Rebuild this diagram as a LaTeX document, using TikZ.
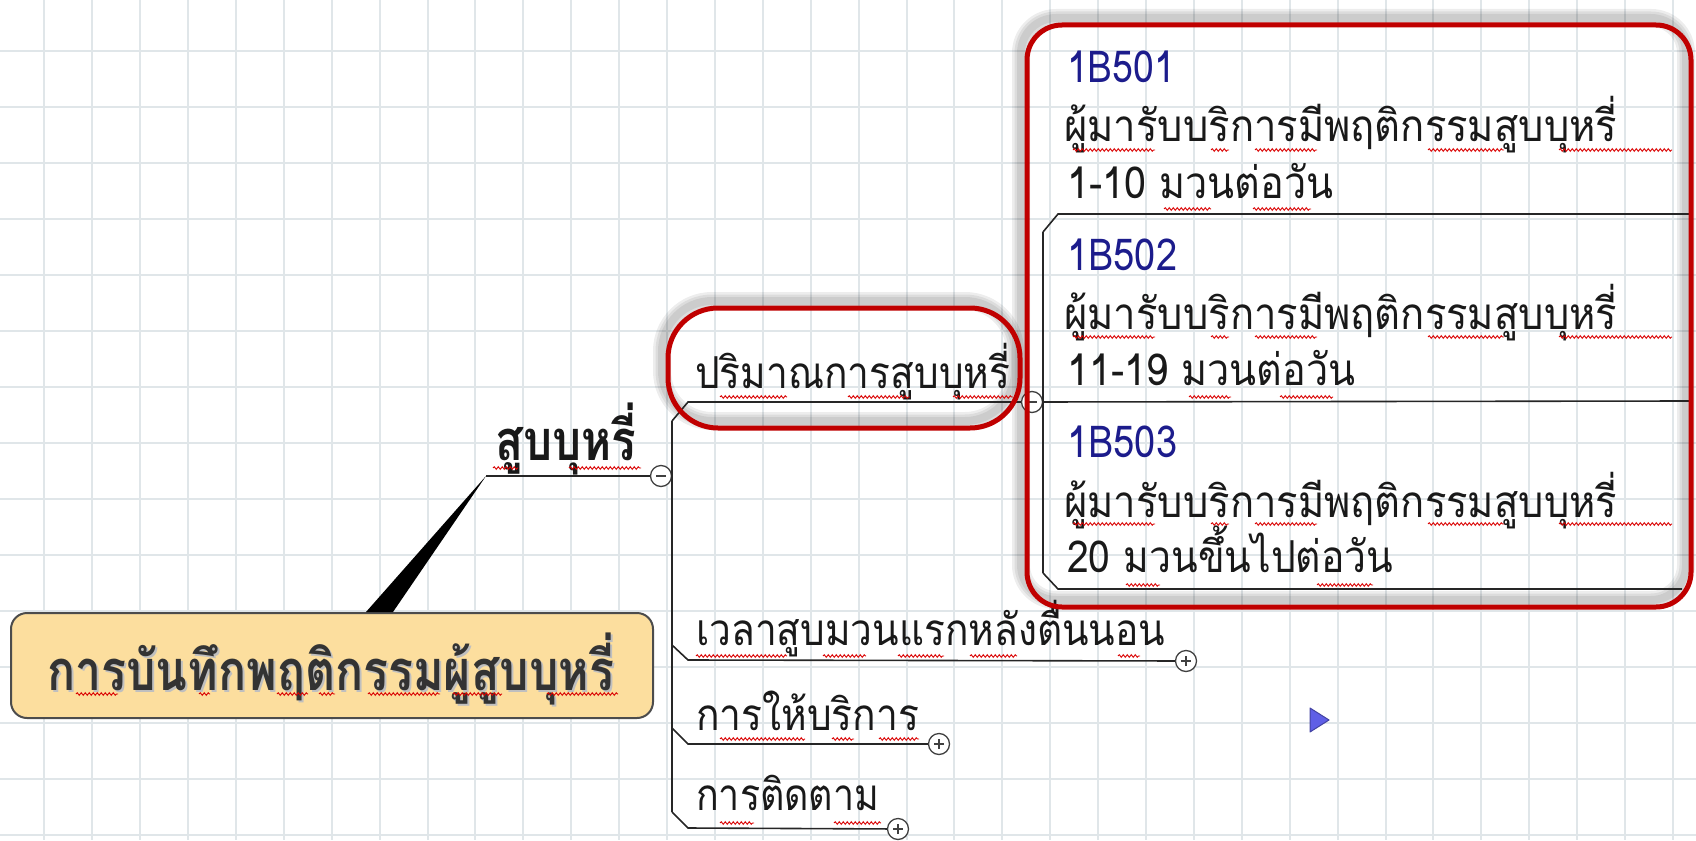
\documentclass[tikz,border=0pt]{standalone}
\usepackage{fontspec}
\newfontfamily\thai[Script=Thai]{Loma}
\usetikzlibrary{decorations.pathmorphing}
\newcommand\fitw[2]{\resizebox{#1}{\height}{#2}}
\definecolor{gridc}{RGB}{224,230,233}
\definecolor{redc}{RGB}{192,0,0}
\definecolor{navy}{RGB}{28,28,140}
\definecolor{peach}{RGB}{252,222,158}
\definecolor{ink}{RGB}{25,25,25}
\definecolor{playc}{RGB}{95,95,230}
\begin{document}
\begin{tikzpicture}[x=1pt,y=-1pt,
  txt/.style={inner sep=0, anchor=base west, text=ink, font=\thai\fontsize{44}{50}\selectfont},
  code/.style={txt, text=navy},
  bigtxt/.style={inner sep=0, anchor=base west, text=ink, font=\thai\bfseries\fontsize{56}{62}\selectfont},
  branch/.style={draw=black!85, line width=1.6},
  toggle/.style={circle, draw=black!75, fill=white, line width=1.3, minimum size=21, inner sep=0},
  squig/.style={draw=red!85!black, line width=0.9, decorate, decoration={snake, amplitude=1.3, segment length=4}},
  redframe/.style={draw=redc, line width=5},
  glow/.style={draw=black, line width=#1, opacity=0.07},
  rootbox/.style={draw=black!70, line width=2, fill=peach, rounded corners=16, minimum width=642, minimum height=105, inner sep=0},
]
\useasboundingbox (0,0) rectangle (1696,840);
% grid
\foreach \i in {0,...,34} \draw[gridc, line width=2] ({44.3+47.9*\i},0) -- ++(0,840);
\foreach \j in {0,...,14} \draw[gridc, line width=2] (0,{50.7+56*\j}) -- ++(1696,0);

% shadows of red frames (offset up-left)
\foreach \w in {18,13,8} {
  \draw[glow=\w, rounded corners=35] (1021,18) rectangle (1686,600);
  \draw[glow=\w, rounded corners=50] (662,301) rectangle (1015,421);
}

% root
\node[rootbox] (root) at (332,665.5) {};
\node[bigtxt, text=black!25] at (49,692) {\fitw{567pt}{การบันทึกพฤติกรรมผู้สูบบุหรี่}};
\node[bigtxt, text=black!80] (rootlabel) at (47,690) {\fitw{567pt}{การบันทึกพฤติกรรมผู้สูบบุหรี่}};

% main topic
\node[bigtxt] (main) at (495,460) {\fitw{141pt}{สูบบุหรี่}};
\coordinate (mainL) at (486,476);
\node[toggle] (t0) at (661,476) {};
\fill[black] ([xshift=34]root.north) -- ([xshift=61]root.north) -- (mainL) -- cycle;
\draw[branch] (mainL) -- (t0);
\draw[black!75, line width=2] ([xshift=-5]t0.center) -- ([xshift=5]t0.center);

% spine of main topic
\coordinate (sp1) at (672,421);
\coordinate (sp2) at (672,645);
\coordinate (sp3) at (672,728);
\coordinate (sp4) at (672,812);
\draw[branch] (sp1) -- (sp4);

% branch 1
\node[txt] (b1) at (695,388) {\fitw{315pt}{ปริมาณการสูบบุหรี่}};
\node[toggle] (t1) at (1032,402) {};
\draw[branch] (sp1) -- (688,402) -- (t1);
\draw[black!75, line width=2] ([xshift=-5]t1.center) -- ([xshift=5]t1.center);

% branch 2
\node[txt] (b2) at (696,645) {\fitw{469pt}{เวลาสูบมวนแรกหลังตื่นนอน}};
\node[toggle] (t2) at (1186,661) {};
\draw[branch] (sp2) -- (688,660) -- (t2);
\draw[black!75, line width=1.6] ([xshift=-5]t2.center) -- ([xshift=5]t2.center) ([yshift=-5]t2.center) -- ([yshift=5]t2.center);

% branch 3
\node[txt] (b3) at (696,730) {\fitw{223pt}{การให้บริการ}};
\node[toggle] (t3) at (939,744) {};
\draw[branch] (sp3) -- (688,744) -- (t3);
\draw[black!75, line width=1.6] ([xshift=-5]t3.center) -- ([xshift=5]t3.center) ([yshift=-5]t3.center) -- ([yshift=5]t3.center);

% branch 4
\node[txt] (b4) at (696,810) {\fitw{183pt}{การติดตาม}};
\node[toggle] (t4) at (898,829) {};
\draw[branch] (sp4) -- (688,828) -- (t4);
\draw[black!75, line width=1.6] ([xshift=-5]t4.center) -- ([xshift=5]t4.center) ([yshift=-5]t4.center) -- ([yshift=5]t4.center);

% sub topics
\coordinate (ss1) at (1043,232);
\coordinate (ss3) at (1043,573);
\coordinate (e1) at (1690,214);
\coordinate (e2) at (1690,401);
\coordinate (e3) at (1682,589);
\draw[branch] (ss1) -- (ss3);
\draw[branch] (ss1) -- (1058,214) -- (e1);
\draw[branch] (t1) -- (e2);
\draw[branch] (ss3) -- (1058,589) -- (e3);

\node[code] (c1) at (1067,83) {\fitw{108pt}{1B501}};
\node[txt] (d1) at (1064,142) {\fitw{553pt}{ผู้มารับบริการมีพฤติกรรมสูบบุหรี่}};
\node[txt] (n1) at (1067,198) {\fitw{266pt}{1-10 มวนต่อวัน}};
\node[code] (c2) at (1067,270) {\fitw{110pt}{1B502}};
\node[txt] (d2) at (1064,329) {\fitw{553pt}{ผู้มารับบริการมีพฤติกรรมสูบบุหรี่}};
\node[txt] (n2) at (1067,385) {\fitw{288pt}{11-19 มวนต่อวัน}};
\node[code] (c3) at (1067,457) {\fitw{110pt}{1B503}};
\node[txt] (d3) at (1064,517) {\fitw{553pt}{ผู้มารับบริการมีพฤติกรรมสูบบุหรี่}};
\node[txt] (n3) at (1067,572) {\fitw{326pt}{20 มวนขึ้นไปต่อวัน}};

% red frames
\draw[redframe, rounded corners=35] (1027,25) rectangle (1691,607);
\draw[redframe, rounded corners=50] (668,308) rectangle (1020,428);

% play marker
\filldraw[fill=playc, draw=playc!70!black, line width=1, line join=round] (1310,708) -- (1329,720) -- (1310,732) -- cycle;

% spell-check squiggles
\foreach \a/\b/\y in {76/118/694, 199/210/694, 277/308/694, 319/335/694, 368/440/694, 453/502/694, 547/618/694,
  493/518/468, 569/641/468,
  720/787/397, 848/910/397, 953/1013/397,
  696/787/656, 823/866/656, 898/944/656, 970/1017/656, 1118/1140/656,
  720/805/739, 832/854/739, 879/919/739,
  720/754/823, 834/881/823,
  1073/1155/150, 1211/1229/150, 1255/1317/150, 1428/1504/150, 1559/1672/150,
  1164/1211/209, 1253/1311/209,
  1073/1155/337, 1211/1229/337, 1255/1317/337, 1428/1504/337, 1559/1672/337,
  1189/1231/397, 1280/1333/397,
  1073/1155/524, 1211/1229/524, 1255/1317/524, 1428/1504/524, 1559/1672/524,
  1126/1160/585, 1317/1373/585}
  \draw[squig] (\a,\y) -- (\b,\y);
\end{tikzpicture}
\end{document}
